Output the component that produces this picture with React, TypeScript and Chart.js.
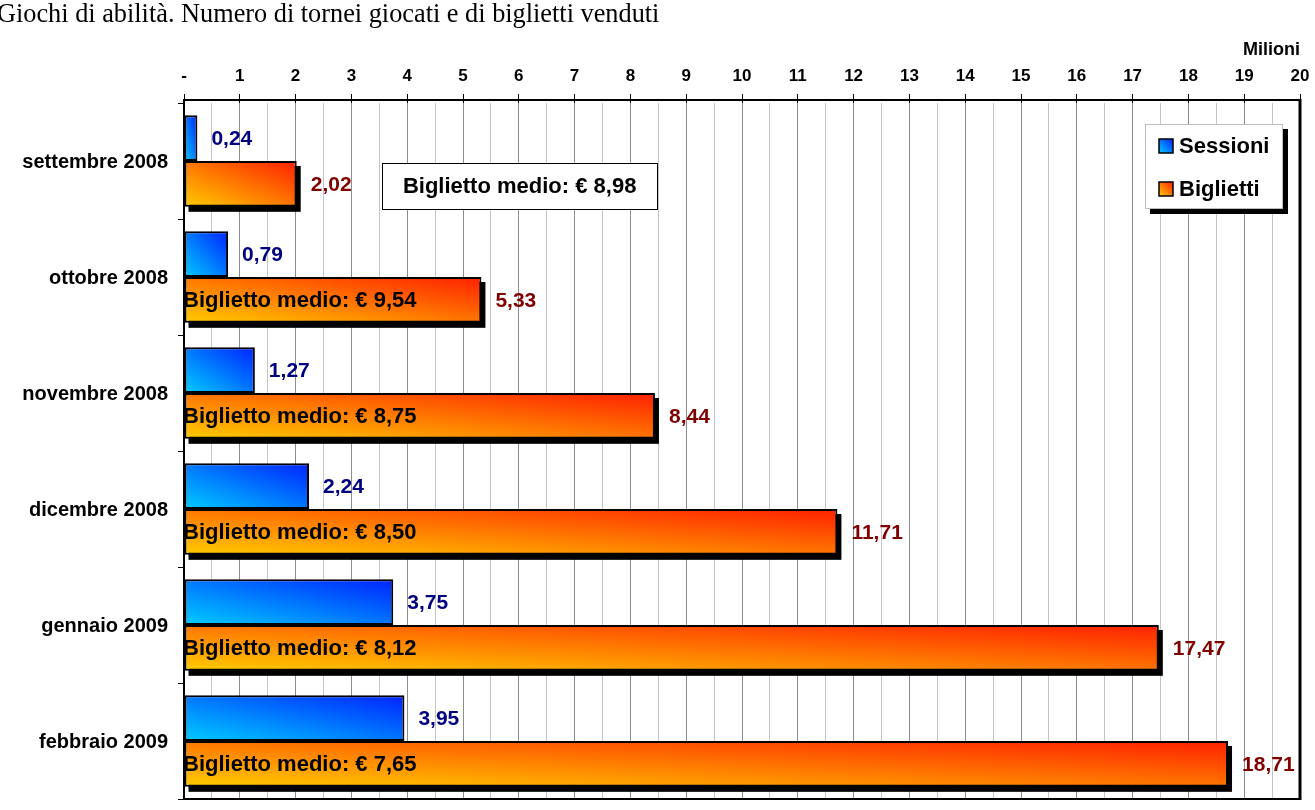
import React, { useEffect, useRef } from 'react';
import { Chart, registerables } from 'chart.js';

Chart.register(...registerables);

const titleText = 'Giochi di abilità. Numero di tornei giocati e di biglietti venduti';
const unitLabel = 'Milioni';
const months = ['settembre 2008', 'ottobre 2008', 'novembre 2008', 'dicembre 2008', 'gennaio 2009', 'febbraio 2009'];
const seriesLabels = ['Sessioni', 'Biglietti'];
const sessioni = [0.24, 0.79, 1.27, 2.24, 3.75, 3.95];
const biglietti = [2.02, 5.33, 8.44, 11.71, 17.47, 18.71];
const bigliettoMedio = [8.98, 9.54, 8.75, 8.5, 8.12, 7.65];
const xMin = 0;
const xMax = 20;
const xStep = 0.5;

const FONT = '"Liberation Sans", Arial, sans-serif';
const GRADS: [string, string][] = [
  ['#00CCFF', '#0022FF'],
  ['#FFCC00', '#FF2000'],
];
const VALUE_COLORS = ['#000080', '#800000'];
const BOXED_INDEX = 0;
const BOX_FROM = 3.55;
const BOX_TO = 8.48;

const fmt = (v: number) => v.toFixed(2).replace('.', ',');
const isInt = (v: number) => Math.abs(v - Math.round(v)) < 1e-6;

function diagGradient(ctx: CanvasRenderingContext2D, left: number, top: number, w: number, h: number, c0: string, c1: string) {
  const ww = Math.max(w, 1);
  const hh = Math.max(h, 1);
  const bottom = top + hh;
  const t = 2 / (1 / (ww * ww) + 1 / (hh * hh));
  const g = ctx.createLinearGradient(left, bottom, left + t / ww, bottom - t / hh);
  g.addColorStop(0, c0);
  g.addColorStop(1, c1);
  return g;
}

function barBox(el: any) {
  const p = el.getProps(['x', 'y', 'base', 'height'], true);
  const left = Math.min(p.base, p.x);
  const w = Math.abs(p.x - p.base);
  const top = p.y - p.height / 2;
  return { left, w, top, h: p.height, right: left + w, cy: p.y };
}

const decorPlugin = {
  id: 'decor',
  beforeDatasetsDraw(chart: any) {
    const ctx = chart.ctx as CanvasRenderingContext2D;
    chart.data.datasets.forEach((_: any, d: number) => {
      const meta = chart.getDatasetMeta(d);
      meta.data.forEach((el: any) => {
        const b = barBox(el);
        el.options.backgroundColor = diagGradient(ctx, b.left, b.top, b.w, b.h, GRADS[d][0], GRADS[d][1]);
        if (d === 1) {
          ctx.save();
          ctx.fillStyle = '#000';
          ctx.fillRect(b.left + 4, b.top + 5, b.w, b.h);
          ctx.restore();
        }
      });
    });
  },
  afterDatasetsDraw(chart: any) {
    const ctx = chart.ctx as CanvasRenderingContext2D;
    const { left, right, top, bottom } = chart.chartArea;
    const xs = chart.scales.x;
    ctx.save();
    ctx.strokeStyle = '#000';
    ctx.lineWidth = 2;
    ctx.beginPath();
    ctx.moveTo(left - 1, top - 3);
    ctx.lineTo(right + 1, top - 3);
    ctx.stroke();
    ctx.beginPath();
    ctx.moveTo(left, top - 3);
    ctx.lineTo(left, bottom + 1);
    ctx.stroke();
    ctx.beginPath();
    ctx.moveTo(left, bottom);
    ctx.lineTo(right, bottom);
    ctx.stroke();
    ctx.lineWidth = 3;
    ctx.beginPath();
    ctx.moveTo(right, top - 4);
    ctx.lineTo(right, bottom + 1);
    ctx.stroke();

    ctx.textBaseline = 'middle';
    ctx.font = `bold 21px ${FONT}`;
    chart.data.datasets.forEach((ds: any, d: number) => {
      const meta = chart.getDatasetMeta(d);
      ctx.fillStyle = VALUE_COLORS[d];
      ctx.textAlign = 'left';
      meta.data.forEach((el: any, i: number) => {
        const b = barBox(el);
        ctx.fillText(fmt(ds.data[i]), b.right + 14, b.cy + 1);
      });
    });

    const meta1 = chart.getDatasetMeta(1);
    ctx.font = `bold 22px ${FONT}`;
    meta1.data.forEach((el: any, i: number) => {
      const b = barBox(el);
      const txt = `Biglietto medio: € ${fmt(bigliettoMedio[i])}`;
      if (i === BOXED_INDEX) {
        const x0 = xs.getPixelForValue(BOX_FROM);
        const x1 = xs.getPixelForValue(BOX_TO);
        const y0 = b.top + 2;
        ctx.fillStyle = '#fff';
        ctx.fillRect(x0, y0, x1 - x0, b.h);
        ctx.lineWidth = 1;
        ctx.strokeStyle = '#000';
        ctx.strokeRect(Math.round(x0) + 0.5, Math.round(y0) + 0.5, Math.round(x1 - x0), Math.round(b.h));
        ctx.fillStyle = '#000';
        ctx.textAlign = 'center';
        ctx.fillText(txt, (x0 + x1) / 2, y0 + b.h / 2 + 1);
      } else {
        ctx.fillStyle = '#000';
        ctx.textAlign = 'left';
        ctx.fillText(txt, left - 1, b.cy + 1);
      }
    });

    const lw = 138;
    const lh = 85;
    const lx = right - 155;
    const ly = top + 21;
    ctx.fillStyle = '#000';
    ctx.fillRect(lx + 5, ly + 5, lw, lh);
    ctx.fillStyle = '#fff';
    ctx.fillRect(lx, ly, lw, lh);
    ctx.strokeStyle = '#bdbdbd';
    ctx.lineWidth = 1;
    ctx.strokeRect(lx + 0.5, ly + 0.5, lw - 1, lh - 1);
    ctx.font = `bold 22px ${FONT}`;
    ctx.textAlign = 'left';
    ctx.textBaseline = 'middle';
    chart.data.datasets.forEach((ds: any, d: number) => {
      const cy = ly + 22 + d * 43;
      const sx = lx + 14;
      const sy = cy - 7;
      ctx.fillStyle = diagGradient(ctx, sx, sy, 14, 14, GRADS[d][0], GRADS[d][1]);
      ctx.fillRect(sx, sy, 14, 14);
      ctx.strokeStyle = '#000';
      ctx.lineWidth = 1.5;
      ctx.strokeRect(sx, sy, 14, 14);
      ctx.fillStyle = '#000';
      ctx.fillText(ds.label, lx + 34, cy + 1);
    });
    ctx.restore();
  },
};

export default function App() {
  const ref = useRef<HTMLCanvasElement | null>(null);

  useEffect(() => {
    if (!ref.current) return;
    const chart = new Chart(ref.current, {
      type: 'bar',
      data: {
        labels: months,
        datasets: [
          {
            label: seriesLabels[0],
            data: sessioni,
            backgroundColor: () => '#00aaff',
            borderColor: '#000',
            borderWidth: 2,
            borderSkipped: false,
            categoryPercentage: 0.79,
            barPercentage: 1,
          },
          {
            label: seriesLabels[1],
            data: biglietti,
            backgroundColor: () => '#ff9900',
            borderColor: '#000',
            borderWidth: 2,
            borderSkipped: false,
            categoryPercentage: 0.79,
            barPercentage: 1,
          },
        ],
      },
      options: {
        indexAxis: 'y',
        responsive: false,
        animation: false,
        devicePixelRatio: 1,
        layout: { padding: { top: 0, right: 15, bottom: 11, left: 0 } },
        plugins: {
          legend: { display: false },
          tooltip: { enabled: false },
          title: { display: false },
        },
        scales: {
          x: {
            position: 'top',
            min: xMin,
            max: xMax,
            ticks: {
              stepSize: xStep,
              autoSkip: false,
              maxRotation: 0,
              padding: 7,
              color: '#000',
              font: { family: FONT, size: 17, weight: 'bold' },
              callback: (v: any) => {
                const n = Number(v);
                if (n === 0) return '-';
                return isInt(n) ? String(Math.round(n)) : '';
              },
            },
            grid: {
              color: (c: any) => (c.tick && isInt(c.tick.value) ? '#8c8c8c' : '#c4c4c4'),
              lineWidth: 1,
              tickLength: 9,
              tickColor: (c: any) => (c.tick && isInt(c.tick.value) ? '#000' : 'rgba(0,0,0,0)'),
            },
            border: { display: false },
            title: {
              display: true,
              text: unitLabel,
              align: 'end',
              color: '#000',
              font: { family: FONT, size: 18, weight: 'bold' },
              padding: { top: 39, bottom: 0 },
            },
            afterFit: (s: any) => {
              s.height = 103;
              s.paddingLeft = 0;
              s.paddingRight = 0;
            },
          },
          y: {
            ticks: {
              color: '#000',
              font: { family: FONT, size: 20, weight: 'bold' },
              padding: 10,
              labelOffset: 1,
            },
            grid: {
              drawOnChartArea: false,
              tickLength: 6,
              tickColor: '#000',
              offset: true,
            },
            border: { display: true, color: '#000', width: 2 },
            afterFit: (s: any) => {
              s.width = 184;
              s.paddingTop = 0;
              s.paddingBottom = 0;
            },
          },
        },
      } as any,
      plugins: [decorPlugin],
    });
    return () => chart.destroy();
  }, []);

  return (
    <div style={{ position: 'absolute', left: 0, top: 0, width: 1315, height: 810, overflow: 'hidden', background: '#fff' }}>
      <div
        style={{
          position: 'absolute',
          left: -3,
          top: -1,
          fontFamily: '"Liberation Serif", "Times New Roman", serif',
          fontSize: 26.3,
          whiteSpace: 'nowrap',
          color: '#000',
          zIndex: 2,
        }}
      >
        {titleText}
      </div>
      <canvas ref={ref} width={1315} height={810} style={{ position: 'absolute', left: 0, top: 0 }} />
    </div>
  );
}
